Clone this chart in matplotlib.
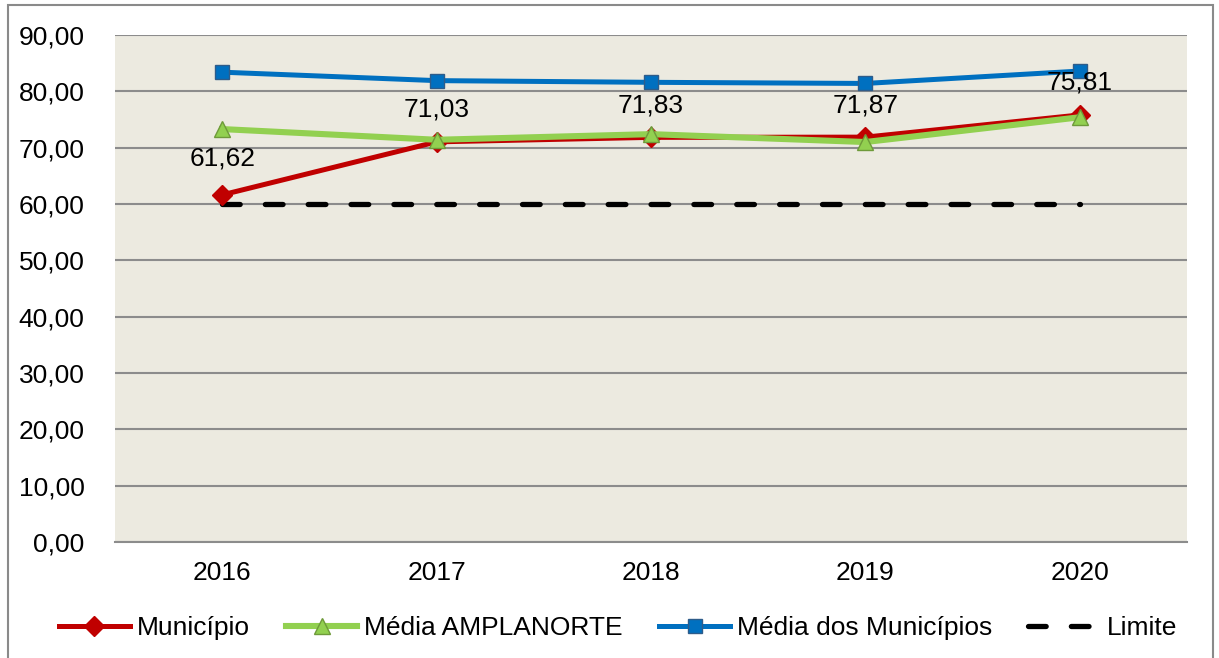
import matplotlib.pyplot as plt
from matplotlib.patches import Rectangle
from matplotlib.ticker import FuncFormatter

plt.rcParams['font.family'] = ['Liberation Sans', 'DejaVu Sans']

anos = ['2016', '2017', '2018', '2019', '2020']
municipio = [61.62, 71.03, 71.83, 71.87, 75.81]
media_amplanorte = [73.3, 71.4, 72.4, 71.0, 75.4]
media_municipios = [83.4, 81.9, 81.6, 81.4, 83.6]
limite = [60, 60, 60, 60, 60]

fig = plt.figure(figsize=(12.19, 6.58), dpi=100)
ax = fig.add_axes([115 / 1219, 1 - 542 / 658, 1072 / 1219, 507 / 658])

# moldura externa
fig.patches.append(Rectangle((8 / 1219, -0.05), 1205 / 1219, 1.05 - 5 / 658,
                             transform=fig.transFigure, fill=False,
                             edgecolor='#8a8a8a', linewidth=1.5))

x = list(range(len(anos)))
ax.set_facecolor('#ECEAE0')

ax.plot(x, limite, color='black', linewidth=3.8, linestyle=(0, (3.35, 4.77)),
        dash_capstyle='round', zorder=2, label='Limite')
ax.plot(x, municipio, color='#C00000', linewidth=3.6, marker='D', markersize=10,
        markerfacecolor='#C00000', markeredgecolor='#C00000', zorder=3, label='Município')
ax.plot(x, media_amplanorte, color='#92D050', linewidth=4.4, marker='^', markersize=11,
        markerfacecolor='#92D050', markeredgecolor='#6E9A3A', zorder=4, label='Média AMPLANORTE')
ax.plot(x, media_municipios, color='#0070C0', linewidth=3.6, marker='s', markersize=10,
        markerfacecolor='#0070C0', markeredgecolor='#2E5C8A', zorder=5, label='Média dos Municípios')

for xi, v in zip(x, municipio):
    off = 26 if xi == 0 else 23
    ax.annotate(f'{v:.2f}'.replace('.', ','), (xi, v), xytext=(0, off),
                textcoords='offset points', ha='center', va='center',
                fontsize=19, color='black', zorder=6)

ax.set_xlim(-0.5, len(anos) - 0.5)
ax.set_ylim(0, 90)
ax.set_yticks(range(0, 91, 10))
ax.yaxis.set_major_formatter(FuncFormatter(lambda v, p: f'{v:.2f}'.replace('.', ',')))
ax.set_xticks(x)
ax.set_xticklabels(anos)
ax.tick_params(axis='both', length=0, labelsize=19)
ax.tick_params(axis='y', pad=22)
ax.tick_params(axis='x', pad=14)
ax.grid(axis='y', color='#8c8c8c', linewidth=1.5, zorder=1)
ax.set_axisbelow(True)
for s in ['left', 'right', 'top']:
    ax.spines[s].set_visible(False)
ax.spines['bottom'].set_color('#8c8c8c')
ax.spines['bottom'].set_linewidth(1.5)

h, l = ax.get_legend_handles_labels()
order = [1, 2, 3, 0]
fig.legend([h[i] for i in order], [l[i] for i in order], loc='center',
           bbox_to_anchor=(618 / 1219, 1 - 628 / 658), ncol=4, frameon=False,
           fontsize=19, handlelength=2.7, handletextpad=0.27, columnspacing=1.36)

fig.savefig('out.png', dpi=100)
